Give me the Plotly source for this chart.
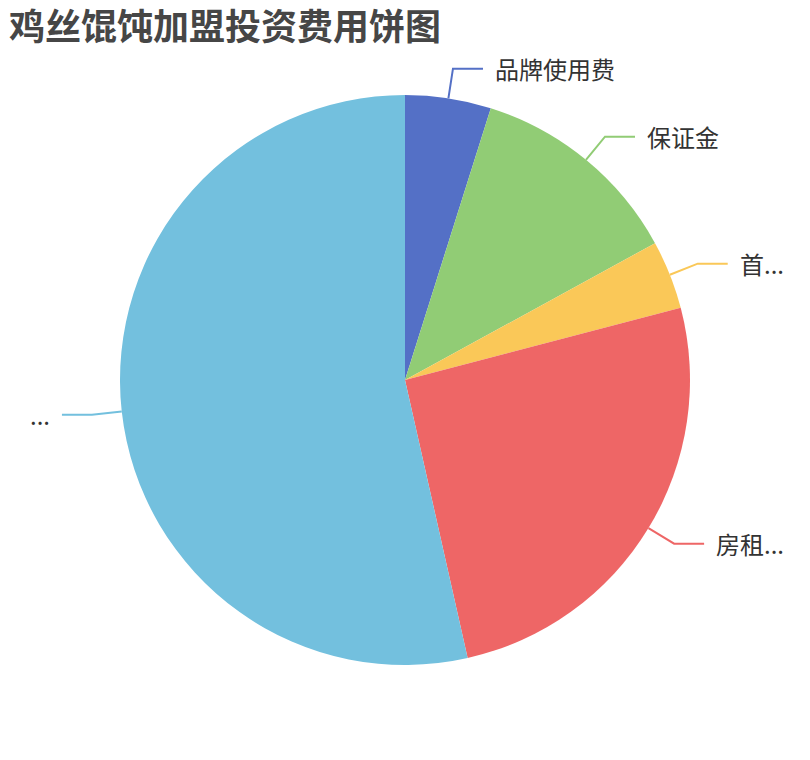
import math
import plotly.graph_objects as go

# ---- data ----
labels = ["品牌使用费", "保证金", "首...", "房租...", "..."]
values = [2.0, 5.0, 1.6, 10.5, 22.0]
colors = ["#5470c6", "#91cc75", "#fac858", "#ee6666", "#73c0de"]
title_text = "鸡丝馄饨加盟投资费用饼图"

# ---- geometry (pixels) ----
W, H = 810, 760
CX, CY, R = 405, 380, 285
LEN1, LEN2, GAP = 30, 30, 10


def px(x):
    return x / W


def py(y):
    return 1 - y / H


fig = go.Figure()
fig.add_trace(go.Pie(
    labels=labels,
    values=values,
    sort=False,
    direction="clockwise",
    rotation=0,
    textinfo="none",
    hoverinfo="label+value+percent",
    marker=dict(colors=colors, line=dict(width=0)),
    domain=dict(x=[px(CX - R), px(CX + R)], y=[py(CY + R), py(CY - R)]),
    showlegend=False,
))

total = sum(values)
cum = 0.0
shapes = []
annotations = []
for lab, val, col in zip(labels, values, colors):
    mid = (cum + val / 2) / total * 2 * math.pi
    cum += val
    s, c = math.sin(mid), math.cos(mid)
    x0, y0 = CX + R * s, CY - R * c
    x1, y1 = CX + (R + LEN1) * s, CY - (R + LEN1) * c
    right = s >= 0
    x2 = x1 + (LEN2 if right else -LEN2)
    y2 = y1
    path = "M {:.5f} {:.5f} L {:.5f} {:.5f} L {:.5f} {:.5f}".format(
        px(x0), py(y0), px(x1), py(y1), px(x2), py(y2))
    shapes.append(dict(type="path", xref="paper", yref="paper", path=path,
                       line=dict(color=col, width=2)))
    tx = x2 + (GAP if right else -GAP)
    annotations.append(dict(
        x=px(tx), y=py(y2), xref="paper", yref="paper",
        text=lab, showarrow=False,
        xanchor="left" if right else "right", yanchor="middle",
        font=dict(size=24, color="#333333", family="Noto Sans CJK SC"),
    ))

fig.update_layout(
    width=W, height=H,
    margin=dict(l=0, r=0, t=0, b=0),
    paper_bgcolor="white",
    plot_bgcolor="white",
    title=dict(
        text="<b>" + title_text + "</b>",
        x=px(9), xanchor="left", xref="paper",
        y=py(27), yanchor="middle", yref="paper",
        font=dict(size=36, color="#464646", family="Noto Sans CJK SC"),
    ),
    shapes=shapes,
    annotations=annotations,
)

fig.write_html("out.html", config={"displayModeBar": False},
               post_script="document.body.style.margin='0';")
